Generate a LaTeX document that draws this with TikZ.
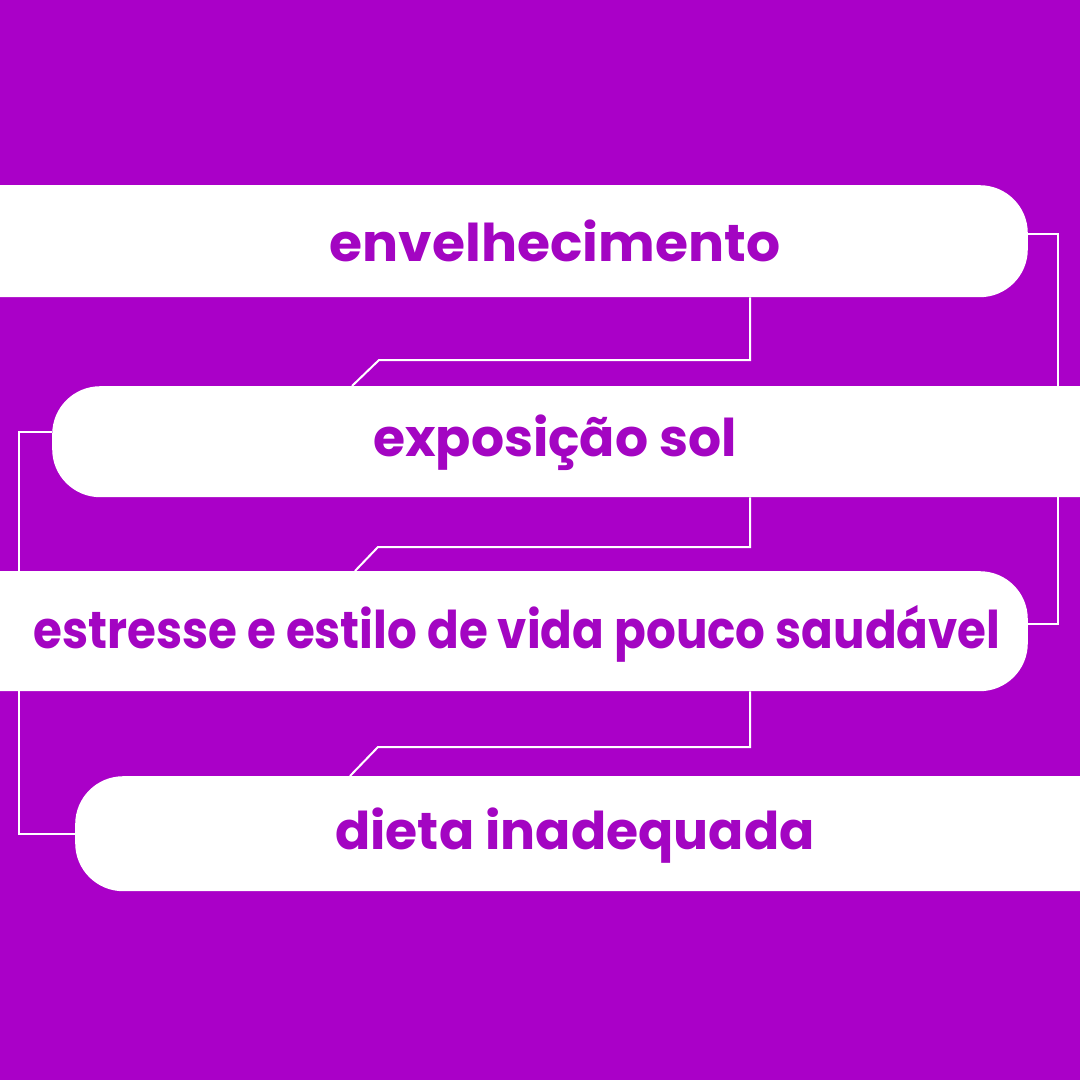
\documentclass[tikz,border=0pt]{standalone}
\usepackage{fontspec}
\setmainfont{Poppins}
\usetikzlibrary{backgrounds}
\definecolor{bg}{HTML}{AA00C8}
\definecolor{txt}{HTML}{A305C2}
\tikzset{
  bar/.style={fill=white, rounded corners=48pt, inner sep=0pt, minimum width=1100pt},
  lbl/.style={text=txt, font=\fontsize{52}{56}\selectfont\bfseries, inner sep=0pt},
  conn/.style={draw=white, line width=2pt}
}
\begin{document}
\begin{tikzpicture}[x=1pt,y=-1pt]
\useasboundingbox (0,0) rectangle (1080,1080);
\clip (0,0) rectangle (1080,1080);
\coordinate (xm) at (750,0);
% connector bend points
\coordinate (c1a) at (750,360);
\coordinate (c1b) at (379,360);
\coordinate (c1c) at (352,386);
\coordinate (c2a) at (750,547);
\coordinate (c2b) at (378,547);
\coordinate (c2c) at (355,571);
\coordinate (c3a) at (750,747);
\coordinate (c3b) at (378,747);
\coordinate (c3c) at (350,776);
\coordinate (r1) at (1058,234);
\coordinate (r2) at (1058,624);
\coordinate (l1) at (19,432);
\coordinate (l2) at (19,834);
% bars
\node[bar, minimum height=112pt, anchor=north east] (b1) at (1028,185) {};
\node[bar, minimum height=111pt, anchor=north west] (b2) at (52,386) {};
\node[bar, minimum height=120pt, anchor=north east] (b3) at (1028,571) {};
\node[bar, minimum height=115pt, anchor=north west] (b4) at (75,776) {};
\begin{scope}[on background layer]
\fill[bg] (0,0) rectangle (1080,1080);
\draw[conn] (b1.south -| xm) -- (c1a) -- (c1b) -- (c1c);
\draw[conn] (b2.south -| xm) -- (c2a) -- (c2b) -- (c2c);
\draw[conn] (b3.south -| xm) -- (c3a) -- (c3b) -- (c3c);
\draw[conn] (b1.east |- r1) -- (r1) -- (r2) -- (b3.east |- r2);
\draw[conn] (b2.west |- l1) -- (l1) -- (l2) -- (b4.west |- l2);
\end{scope}
% labels
\node[lbl] (t1) at (555,241) {\scalebox{1.03}[1]{envelhecimento}};
\node[lbl] (t2) at (555,443) {exposição sol};
\node[lbl] (t3) at (517,634) {\scalebox{0.9}[1]{estresse e estilo de vida pouco saudável}};
\node[lbl] (t4) at (575,836) {dieta inadequada};
\end{tikzpicture}
\end{document}
